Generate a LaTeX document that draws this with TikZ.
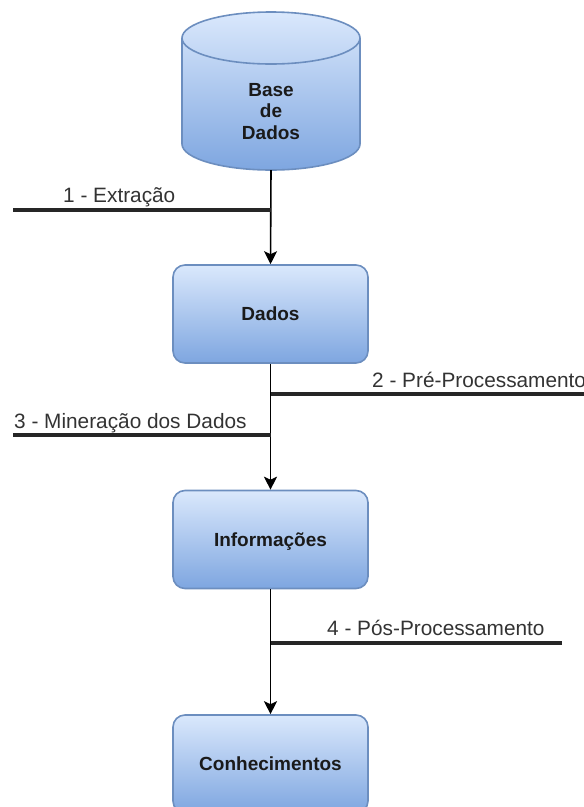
\documentclass[tikz,border=0pt]{standalone}
\usepackage{fontspec}
\setmainfont{Liberation Sans}
\usetikzlibrary{arrows.meta}
\definecolor{boxtop}{HTML}{DAE8FC}
\definecolor{boxbot}{HTML}{7EA6E0}
\definecolor{boxline}{HTML}{6C8EBF}
\definecolor{ink}{HTML}{1A1A1A}
\definecolor{labelink}{HTML}{333333}
\tikzset{
  stepbox/.style={rectangle, rounded corners=12pt, minimum width=195pt,
    minimum height=98pt, draw=boxline, line width=1.6pt,
    top color=boxtop, bottom color=boxbot, inner sep=0pt,
    font=\fontsize{19}{21.5}\selectfont\bfseries, text=ink,
    text height=13.6pt, text depth=0pt},
  flow/.style={line width=1.6pt, draw=black,
    -{Stealth[length=13pt, width=13pt, inset=3pt]}},
  bar/.style={line width=3.2pt, draw=black!85},
  steplabel/.style={anchor=base west, inner sep=0pt, text=labelink,
    font=\fontsize{20.8}{24}\selectfont},
}
\begin{document}
\begin{tikzpicture}[x=1pt, y=1pt]
  \useasboundingbox (0,0) rectangle (584,-807);

  % database cylinder
  \path[top color=boxtop, bottom color=boxbot, draw=boxline, line width=1.6pt]
    (182,-38) -- (182,-144)
    arc[start angle=180, end angle=360, x radius=89pt, y radius=26pt]
    -- (360,-38)
    arc[start angle=0, end angle=180, x radius=89pt, y radius=26pt] -- cycle;
  \draw[draw=boxline, line width=1.6pt] (182,-38)
    arc[start angle=180, end angle=360, x radius=89pt, y radius=26pt];
  \node[minimum width=178pt, minimum height=158pt, inner sep=0pt] (db) at (271,-91) {};
  \node[align=center, inner sep=0pt, text=ink,
        font=\fontsize{19}{21.5}\selectfont\bfseries] (dbtext) at (271,-111.5)
        {Base\\de\\Dados};

  % processing steps
  \node[stepbox] (dados) at (270.5,-314) {Dados};
  \node[stepbox] (info) at (270.5,-539.5) {Informações};
  \node[stepbox] (conh) at (270.5,-764) {Conhecimentos};

  % main flow
  \draw[flow] (db.south) -- (dados.north);
  \draw[flow] (dados.south) -- (info.north);
  \draw[flow] (info.south) -- (conh.north);

  % step bars
  \coordinate (e1) at (13,-210);
  \coordinate (e2) at (584,-394);
  \coordinate (e3) at (13,-435);
  \coordinate (e4) at (562,-643);
  \draw[bar] (e1) -- (e1 -| db.south);
  \draw[bar] (e2) -- (e2 -| dados.south);
  \draw[bar] (e3) -- (e3 -| dados.south);
  \draw[bar] (e4) -- (e4 -| info.south);

  % step labels
  \node[steplabel] (l1) at (63,-202) {1 - Extração};
  \node[steplabel] (l2) at (372,-387) {2 - Pré-Processamento};
  \node[steplabel] (l3) at (14,-428) {3 - Mineração dos Dados};
  \node[steplabel] (l4) at (327,-635) {4 - Pós-Processamento};
\end{tikzpicture}
\end{document}
